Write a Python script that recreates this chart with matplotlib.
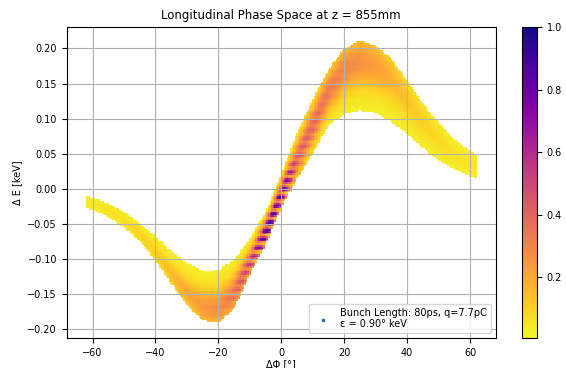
import numpy as np
import matplotlib.pyplot as plt

# band edges (phase in deg, energy in keV)
phi_knots = [-62, -60, -55, -50, -45, -40, -35, -30, -25, -20, -15, -10, -5,
             0, 5, 10, 15, 20, 25, 30, 35, 40, 45, 50, 55, 60, 62]
e_high = [-0.010, -0.012, -0.021, -0.033, -0.049, -0.068, -0.088, -0.105, -0.117,
          -0.116, -0.100, -0.071, -0.033, 0.022, 0.080, 0.128, 0.170, 0.200, 0.211,
          0.204, 0.185, 0.155, 0.122, 0.094, 0.071, 0.054, 0.049]
e_low = [-0.028, -0.030, -0.040, -0.055, -0.075, -0.102, -0.135, -0.165, -0.188,
         -0.191, -0.171, -0.122, -0.080, -0.026, 0.014, 0.050, 0.090, 0.106, 0.112,
         0.108, 0.095, 0.078, 0.058, 0.041, 0.028, 0.018, 0.015]

# charge level of the dense core and where it sits across the band (0 = low edge, 1 = high edge)
core_amp = [0.02, 0.02, 0.03, 0.04, 0.06, 0.08, 0.12, 0.17, 0.22, 0.25, 0.35, 0.55, 0.95,
            0.97, 0.45, 0.38, 0.32, 0.27, 0.24, 0.20, 0.15, 0.10, 0.07, 0.05, 0.03, 0.02, 0.02]
core_pos = [0.5, 0.5, 0.5, 0.45, 0.4, 0.35, 0.3, 0.28, 0.27, 0.27, 0.3, 0.32, 0.35,
            0.35, 0.42, 0.5, 0.6, 0.68, 0.7, 0.7, 0.7, 0.65, 0.6, 0.55, 0.5, 0.5, 0.5]
core_width = 0.35
base_level = 0.03

legend_text = "Bunch Length: 80ps, q=7.7pC\nε = 0.90° keV"

# cell grid
phi_edges = np.arange(-62.25, 62.5, 0.5)
e_edges = np.arange(-0.200, 0.2151, 0.0025)
pc = 0.5 * (phi_edges[:-1] + phi_edges[1:])
ec = 0.5 * (e_edges[:-1] + e_edges[1:])
P, E = np.meshgrid(pc, ec)

lo = np.interp(P, phi_knots, e_low)
hi = np.interp(P, phi_knots, e_high)
s = (E - lo) / (hi - lo)
amp = np.interp(P, phi_knots, core_amp)
s0 = np.interp(P, phi_knots, core_pos)
val = base_level + amp * np.exp(-((s - s0) / core_width) ** 2)
# striped look of the dense centre
stripe = 0.2 + 0.8 * (0.5 + 0.5 * np.cos(2 * np.pi * E / 0.012))
w = np.clip((amp - 0.2) / 0.5, 0, 1) * np.clip(1.3 - s, 0, 1)
val = val * (1 - w + w * stripe)
val = np.ma.masked_where((s < 0) | (s > 1) | (np.abs(P) > 62), val)

fig = plt.figure(figsize=(5.66, 3.68), dpi=100)
ax = fig.add_axes([0.118, 0.0815, 0.758, 0.845])
cax = fig.add_axes([0.922, 0.0815, 0.0265, 0.845])

mesh = ax.pcolormesh(phi_edges, e_edges, val, cmap='plasma_r', vmin=0.005, vmax=1.0)
ax.scatter([], [], marker='s', s=3, color='C0', label=legend_text)

ax.set_xlim(-68.2, 68.2)
ax.set_ylim(-0.2125, 0.2305)
ax.grid(True)
ax.set_title("Longitudinal Phase Space at z = 855mm", fontsize=8.5)
ax.set_xlabel("ΔΦ [°]", fontsize=7, labelpad=1)
ax.set_ylabel("Δ E [keV]", fontsize=7)
ax.tick_params(labelsize=7)
ax.legend(loc='lower right', fontsize=7)

cb = fig.colorbar(mesh, cax=cax)
cb.set_ticks([0.2, 0.4, 0.6, 0.8, 1.0])
cb.ax.tick_params(labelsize=7)
cb.set_label("Charge Distribution", fontsize=7)

plt.savefig('out.png')
